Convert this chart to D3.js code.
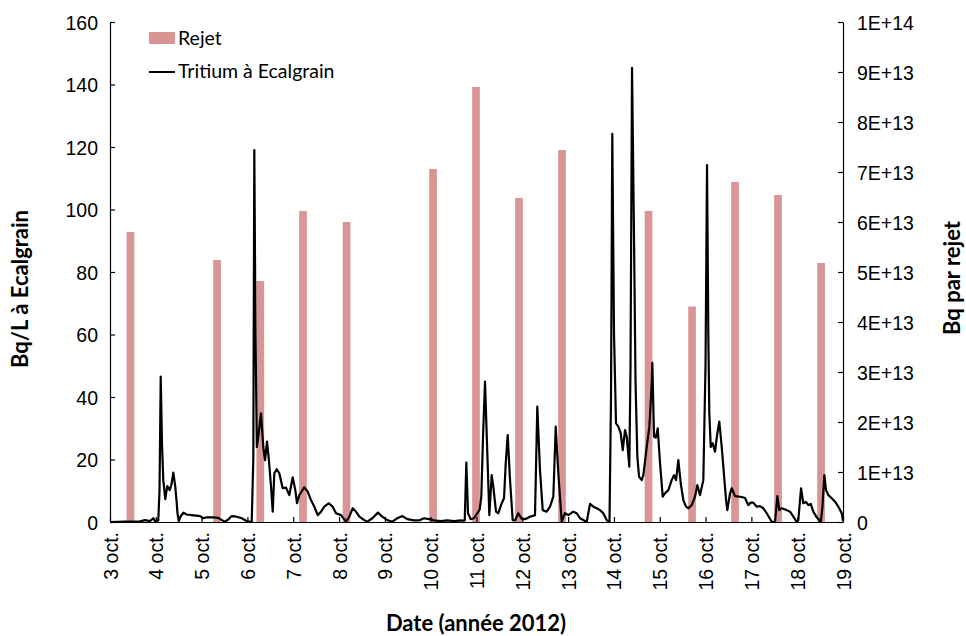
<!DOCTYPE html>
<html lang="fr">
<head>
    <meta charset="UTF-8">
    <title>Tritium à Ecalgrain</title>
    <script src="https://d3js.org/d3.v7.min.js"></script>
    <style>
        body { margin: 0; background: #fff; }
        svg { display: block; font-family: Lato, "Open Sans", sans-serif; }
        .axis path, .axis line { stroke: #000; stroke-width: 1.2px; }
        .axis text { font-size: 19.5px; fill: #000; }
        .title { font-size: 22px; font-weight: bold; fill: #000; }
    </style>
</head>
<body>
    <div id="chart"></div>
    <script>
        // rejets (jour d'octobre en décimal, Bq par rejet)
        const rejetDay = [3.447, 5.336, 6.281, 7.213, 8.163, 10.051, 10.989, 11.928, 12.867, 14.755, 15.705, 16.643, 17.582, 18.521]
        const rejetBq = [5.80e13, 5.24e13, 4.82e13, 6.22e13, 6.00e13, 7.06e13, 8.70e13, 6.48e13, 7.44e13, 6.22e13, 4.31e13, 6.80e13, 6.54e13, 5.18e13]

        // tritium à Ecalgrain (jour d'octobre en décimal, Bq/L)
        const tritiumDay = [
            3.000, 3.327, 3.655, 3.764, 3.873, 3.945, 3.982, 4.054, 4.081, 4.107, 4.135, 4.163, 4.207, 4.250, 4.303, 4.342,
            4.382, 4.425, 4.451, 4.473, 4.500, 4.550, 4.604, 4.670, 4.783, 4.965, 5.037, 5.111, 5.255, 5.364, 5.445, 5.510,
            5.582, 5.656, 5.765, 5.875, 5.984, 6.093, 6.128, 6.150, 6.176, 6.205, 6.242, 6.296, 6.346, 6.384, 6.427, 6.464,
            6.515, 6.552, 6.587, 6.639, 6.696, 6.770, 6.842, 6.914, 6.988, 7.045, 7.082, 7.132, 7.241, 7.316, 7.388, 7.460,
            7.534, 7.606, 7.678, 7.774, 7.861, 7.933, 8.043, 8.152, 8.224, 8.298, 8.370, 8.442, 8.551, 8.617, 8.726, 8.850,
            8.944, 9.053, 9.162, 9.272, 9.381, 9.490, 9.636, 9.745, 9.854, 9.964, 10.073, 10.219, 10.363, 10.509, 10.656, 10.743,
            10.778, 10.815, 10.874, 10.946, 11.018, 11.070, 11.105, 11.142, 11.186, 11.236, 11.280, 11.332, 11.367, 11.426, 11.476, 11.550,
            11.601, 11.638, 11.681, 11.732, 11.790, 11.841, 11.913, 11.987, 12.059, 12.168, 12.277, 12.327, 12.386, 12.445, 12.532, 12.605,
            12.677, 12.729, 12.786, 12.860, 12.932, 13.004, 13.113, 13.187, 13.260, 13.406, 13.478, 13.550, 13.624, 13.696, 13.768, 13.842,
            13.903, 13.936, 13.964, 14.002, 14.045, 14.096, 14.148, 14.192, 14.242, 14.279, 14.336, 14.362, 14.395, 14.439, 14.471, 14.511,
            14.548, 14.607, 14.642, 14.716, 14.773, 14.825, 14.838, 14.875, 14.912, 14.956, 15.006, 15.065, 15.115, 15.187, 15.261, 15.312,
            15.356, 15.406, 15.458, 15.515, 15.573, 15.624, 15.698, 15.770, 15.820, 15.879, 15.951, 15.999, 16.032, 16.060, 16.082, 16.113,
            16.156, 16.206, 16.257, 16.300, 16.353, 16.388, 16.447, 16.475, 16.534, 16.571, 16.643, 16.789, 16.861, 16.933, 16.985, 17.042,
            17.116, 17.188, 17.261, 17.335, 17.444, 17.516, 17.567, 17.610, 17.663, 17.772, 17.844, 17.916, 17.990, 18.025, 18.084, 18.134,
            18.193, 18.243, 18.296, 18.352, 18.427, 18.514, 18.549, 18.593, 18.630, 18.680, 18.754, 18.826, 18.898, 18.972, 19.000
        ]
        const tritiumBqL = [
            0, 0.1, 0.2, 0.6, 0.3, 1.2, 0.3, 0.5, 10, 46.5, 25, 13.4, 7.3, 11.5, 10.2, 12,
            15.8, 11.3, 7, 2.8, 0.3, 2, 3, 2.4, 2.2, 1.9, 1.2, 1.5, 1.5, 1.3, 0.6, 0.1,
            0.8, 1.9, 1.7, 1.2, 0.3, 0, 20, 119, 60, 24, 28, 34.8, 24, 19.8, 25.7, 20.5,
            11.3, 3.3, 15.6, 16.9, 15.6, 10.8, 11, 8.6, 14.3, 10.2, 6, 8.6, 11.1, 9.7, 7, 4.9,
            2.2, 3.3, 4.9, 6, 4.9, 2.8, 2.2, 0.1, 1.7, 4.4, 3.3, 1.7, 0.6, 0.1, 1.2, 3,
            1.7, 0.6, 0.1, 1.2, 1.9, 0.9, 0.5, 0.5, 1.2, 0.9, 0.5, 0.3, 0.5, 0.3, 0.5, 0.4,
            19, 2.8, 0.9, 1.2, 2.8, 4, 8.1, 27.3, 44.9, 22, 2.2, 15, 11.3, 3.3, 2.8, 6,
            7.6, 18.8, 27.8, 13.4, 0.6, 0.5, 2.8, 1, 0.9, 1.7, 2.2, 36.9, 16.6, 3.8, 3.3, 4.9,
            8.1, 30.5, 15.6, 0.1, 2.8, 2.2, 3.3, 2.8, 1.2, 0, 5.8, 4.9, 4.4, 3.8, 2.8, 0.6,
            0, 40, 124.2, 60, 31.6, 30.5, 28.4, 23, 29.4, 27.3, 17.7, 50, 145.3, 90, 45, 20.9,
            14.5, 13.4, 15, 24, 30.5, 44.4, 50.9, 27.3, 27, 30, 18.8, 8.1, 9.2, 10.2, 13.4, 15,
            13.4, 19.8, 12.4, 7, 4.9, 4.4, 5.4, 8.1, 11.8, 8.6, 13.4, 50, 114.2, 60, 34.8, 24,
            25.2, 22.5, 28.4, 32.1, 24, 17.7, 7, 3.8, 9.2, 10.8, 8.3, 8, 7.7, 5.4, 6.2, 6.2,
            4.9, 5.1, 4.4, 2.8, 0.1, 0, 8.3, 3.8, 4.4, 3.8, 3.3, 1.7, 0, 0.6, 10.8, 6,
            6.4, 5.4, 5.8, 3.3, 1.5, 0, 4.4, 15, 10.2, 8.6, 7.6, 6.5, 4.9, 2.8, 0.3
        ]

        const leftTicks = [0, 20, 40, 60, 80, 100, 120, 140, 160]
        const rightTicks = [0, 1e13, 2e13, 3e13, 4e13, 5e13, 6e13, 7e13, 8e13, 9e13, 1e14]

        const width = 966, height = 636
        const margin = {top: 22, right: 123, bottom: 114, left: 110}
        const w = width - margin.left - margin.right
        const h = height - margin.top - margin.bottom

        // jour décimal d'octobre 2012 -> date UTC
        const toDate = d => new Date(Date.UTC(2012, 9, 1) + (d - 1) * 864e5)

        const svg = d3.select("#chart").append("svg")
            .attr("width", width)
            .attr("height", height)

        const g = svg.append("g")
            .attr("transform", "translate(" + margin.left + "," + margin.top + ")")

        const x = d3.scaleUtc()
            .domain([toDate(3), toDate(19)])
            .range([0, w])

        const y = d3.scaleLinear().domain([0, 160]).range([h, 0])
        const y2 = d3.scaleLinear().domain([0, 1e14]).range([h, 0])

        // barres des rejets
        const halfBar = 0.084
        g.append("g")
            .selectAll("rect")
            .data(rejetDay)
            .join("rect")
                .attr("x", d => x(toDate(d - halfBar)))
                .attr("width", d => x(toDate(d + halfBar)) - x(toDate(d - halfBar)))
                .attr("y", (d, i) => y2(rejetBq[i]))
                .attr("height", (d, i) => h - y2(rejetBq[i]))
                .attr("fill", "#d99594")

        // courbe tritium
        const line = d3.line()
            .x(d => x(toDate(d[0])))
            .y(d => y(d[1]))
        g.append("path")
            .datum(d3.zip(tritiumDay, tritiumBqL))
            .attr("d", line)
            .attr("fill", "none")
            .attr("stroke", "#000")
            .attr("stroke-width", 2.2)
            .attr("stroke-linejoin", "round")

        // axes
        const sci = d => {
            if (d === 0) return "0"
            const e = Math.floor(Math.log10(d) + 1e-9)
            return Math.round(d / Math.pow(10, e)) + "E+" + e
        }

        g.append("g")
            .attr("class", "axis")
            .call(d3.axisLeft(y).tickValues(leftTicks).tickSizeInner(-5).tickSizeOuter(0).tickPadding(12))
            .call(a => a.selectAll("text").attr("dy", "0.36em"))

        g.append("g")
            .attr("class", "axis")
            .attr("transform", "translate(" + w + ",0)")
            .call(d3.axisRight(y2).tickValues(rightTicks).tickFormat(sci).tickSizeInner(-5).tickSizeOuter(0).tickPadding(14))
            .call(a => a.selectAll("text").attr("dy", "0.36em"))

        const xAxis = g.append("g")
            .attr("class", "axis")
            .attr("transform", "translate(0," + h + ")")
            .call(d3.axisBottom(x).ticks(d3.utcDay.every(1)).tickFormat(d => d.getUTCDate() + " oct.").tickSizeInner(-5).tickSizeOuter(0))
        xAxis.selectAll("text")
            .attr("y", null)
            .attr("dy", "0.36em")
            .attr("text-anchor", "end")
            .attr("transform", "translate(0,10) rotate(-90)")

        // titres
        svg.append("text")
            .attr("class", "title")
            .attr("transform", "translate(28,289) rotate(-90)")
            .attr("text-anchor", "middle")
            .text("Bq/L à Ecalgrain")

        svg.append("text")
            .attr("class", "title")
            .attr("transform", "translate(960,278) rotate(-90)")
            .attr("text-anchor", "middle")
            .text("Bq par rejet")

        svg.append("text")
            .attr("class", "title")
            .attr("x", 476)
            .attr("y", 631)
            .attr("text-anchor", "middle")
            .text("Date (année 2012)")

        // légende
        const legend = svg.append("g").attr("transform", "translate(149,0)")
        legend.append("rect")
            .attr("x", 0).attr("y", 32).attr("width", 26).attr("height", 12)
            .attr("fill", "#d99594")
        legend.append("text")
            .attr("x", 29).attr("y", 38).attr("dy", "0.36em")
            .style("font-size", "19.5px")
            .text("Rejet")
        legend.append("line")
            .attr("x1", 0).attr("x2", 26).attr("y1", 72).attr("y2", 72)
            .attr("stroke", "#000").attr("stroke-width", 2)
        legend.append("text")
            .attr("x", 29).attr("y", 71).attr("dy", "0.36em")
            .style("font-size", "19.5px")
            .text("Tritium à Ecalgrain")
    </script>
</body>
</html>
